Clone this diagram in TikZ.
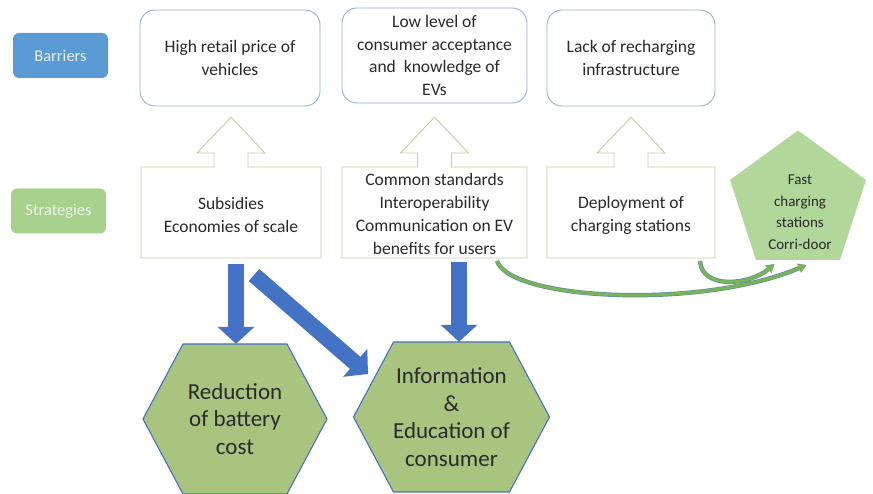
\documentclass[tikz,border=0pt]{standalone}
\usepackage{fontspec}
\setmainfont{Carlito}
\usetikzlibrary{arrows.meta,calc,shapes.geometric,backgrounds}
\definecolor{barblue}{HTML}{5B9BD5}
\definecolor{strgreen}{HTML}{A9D18E}
\definecolor{boxedge}{HTML}{9AAFC8}
\definecolor{stredge}{HTML}{C7CCA6}
\definecolor{arrblue}{HTML}{4472C4}
\definecolor{hexfill}{HTML}{A8C47F}
\definecolor{pentfill}{HTML}{B2D79A}
\definecolor{txtgray}{HTML}{2A2A2A}
\definecolor{curvegreen}{HTML}{79B456}
\definecolor{curveedge}{HTML}{5E8FA8}
\tikzset{
  lbl/.style={rounded corners=6pt, minimum width=95pt, minimum height=45pt, inner sep=0pt, font=\fontsize{16.5}{18}\selectfont},
  barbox/.style={draw=boxedge, line width=0.9pt, rounded corners=15pt, fill=white, inner sep=0pt, align=center, text=txtgray, font=\fontsize{17.5}{22.5}\selectfont},
  strbox/.style={inner sep=0pt, align=center, text=txtgray, font=\fontsize{17.5}{23}\selectfont},
  callout/.style={draw=stredge, line width=0.9pt, fill=white},
  bigarrow/.style={draw=arrblue, line width=16pt, -{Triangle[length=17pt, width=36pt]}},
  hexshape/.style={draw=arrblue, line width=1.1pt, fill=hexfill},
  hextext/.style={inner sep=0pt, align=center, text=txtgray, font=\fontsize{23}{27.5}\selectfont},
  curvearrow/.style={draw=curvegreen, line width=3pt, -{Triangle[length=8pt, width=9pt]},
     preaction={draw=curveedge, line width=4.4pt, -{Triangle[length=8pt, width=9pt]}}},
}
\begin{document}
\begin{tikzpicture}[x=1pt, y=-1pt]
\useasboundingbox (0,0) rectangle (873,494);
% side labels
\node[lbl, fill=barblue, text=white!85!barblue] (lb) at (60.5,55.5) {Barriers};
\node[lbl, fill=strgreen, text=white!80!strgreen] (ls) at (58.5,211) {Strategies};
% barrier boxes
\node[barbox, minimum width=180pt, minimum height=96pt] (b1) at (230,58) {High retail price of\\vehicles};
\node[barbox, minimum width=185pt, minimum height=95pt] (b2) at (434.5,55.5) {Low level of\\consumer acceptance\\and\ \ knowledge of\\EVs};
\node[barbox, minimum width=168pt, minimum height=96pt] (b3) at (631,58) {Lack of recharging\\infrastructure};
% strategy boxes with up-arrow callouts
\foreach \cx/\w in {231/180, 434.5/185, 631/168}{
  \draw[callout] (\cx-\w/2,258) -- (\cx-\w/2,167) -- (\cx-17,167) -- (\cx-17,153) -- (\cx-34,153)
     -- (\cx,117) -- (\cx+34,153) -- (\cx+17,153) -- (\cx+17,167) -- (\cx+\w/2,167) -- (\cx+\w/2,258) -- cycle;
}
\node[strbox, minimum width=180pt, minimum height=91pt] (s1) at (231,214.5) {Subsidies\\Economies of scale};
\node[strbox, minimum width=185pt, minimum height=91pt] (s2) at (434.5,214) {Common standards\\Interoperability\\Communication on EV\\benefits for users};
\node[strbox, minimum width=168pt, minimum height=91pt] (s3) at (631,215) {Deployment of\\charging stations};
% pentagon
\node[regular polygon, regular polygon sides=5, minimum size=143pt, inner sep=0pt, fill=pentfill] (p) at (798,202) {};
\node[align=center, inner sep=0pt, text=txtgray, font=\fontsize{15}{21.5}\selectfont] (pt) at (800,212) {Fast\\charging\\stations\\Corri-door};
% hexagons
\coordinate (c1) at (235,419);
\coordinate (c2) at (451.5,417);
\draw[hexshape] ($(c1)+(-92,0)$) -- ($(c1)+(-52,-75)$) -- ($(c1)+(52,-75)$) -- ($(c1)+(92,0)$) -- ($(c1)+(52,75)$) -- ($(c1)+(-52,75)$) -- cycle;
\draw[hexshape] ($(c2)+(-98,0)$) -- ($(c2)+(-58,-75)$) -- ($(c2)+(58,-75)$) -- ($(c2)+(98,0)$) -- ($(c2)+(58,75)$) -- ($(c2)+(-58,75)$) -- cycle;
\node[hextext, minimum width=184pt, minimum height=150pt] (h1) at (235,419) {Reduction\\of battery\\cost};
\node[hextext, minimum width=196pt, minimum height=150pt] (h2) at (451.5,417) {Information\\\&\\Education of\\consumer};
% blue arrows
\coordinate (a1s) at (236,264);
\coordinate (a2s) at (254,275);
\coordinate (a3s) at (459,262);
\draw[bigarrow] (a1s) -- (a1s |- h1.north);
\draw[bigarrow] (a2s) -- (368,374);
\draw[bigarrow] (a3s) -- (a3s |- h2.north);
% curved arrows
\coordinate (e1) at ($(p.corner 3)!0.6!(p.corner 4)+(0,5)$);
\coordinate (e2) at ($(p.corner 3)!0.22!(p.corner 4)+(0,4)$);
\coordinate (st1) at (497,261);
\coordinate (st2) at (700,261);
\draw[curvearrow] (st1) .. controls (510,300) and (700,310) .. (e1);
\draw[curvearrow] (st2) .. controls (702,290) and (750,285) .. (e2);
\end{tikzpicture}
\end{document}
